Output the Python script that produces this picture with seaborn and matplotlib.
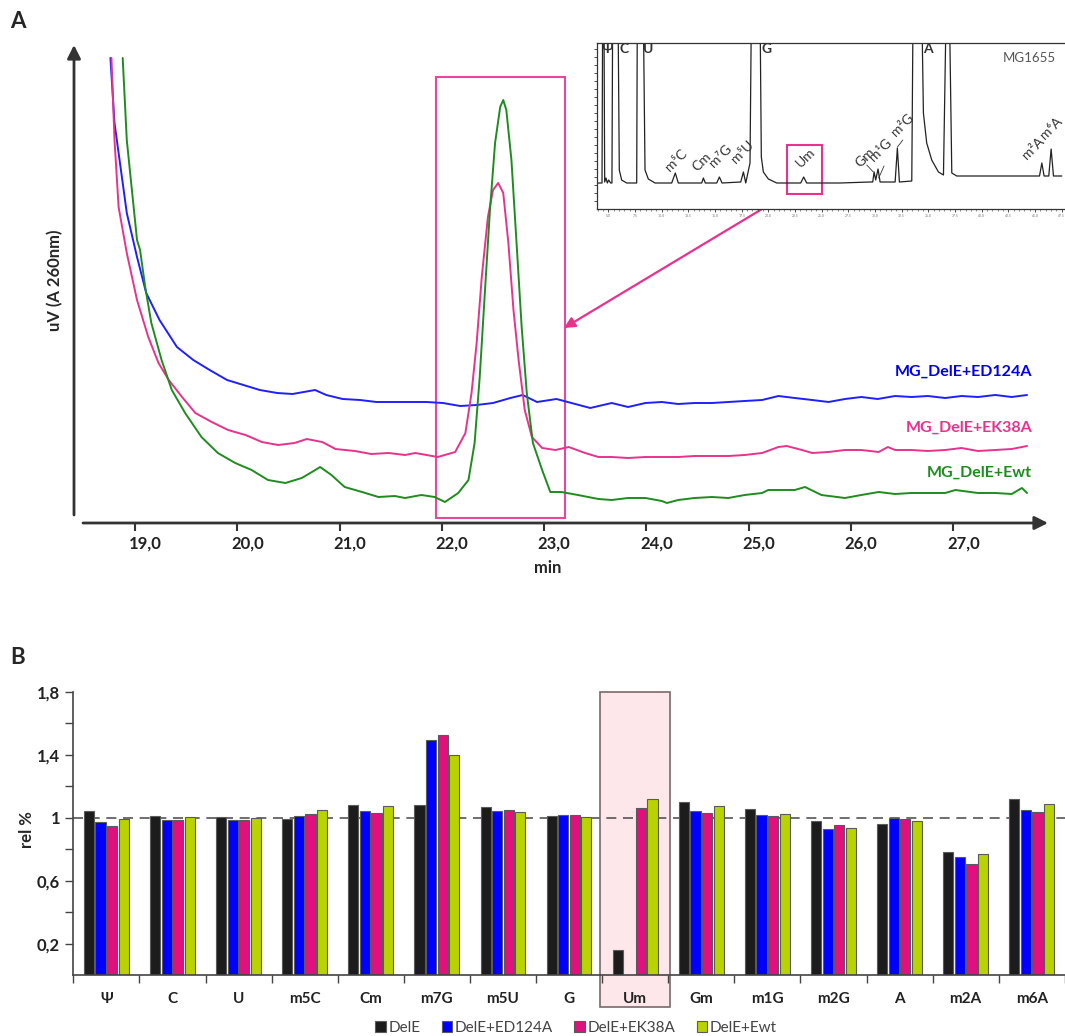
import numpy as np
import pandas as pd
import matplotlib
matplotlib.use("Agg")
import matplotlib.pyplot as plt
import matplotlib.transforms as mtransforms
from matplotlib.patches import Rectangle
import seaborn as sns

# ---------------- panel A: HPLC traces at 260 nm (min, signal in a.u.) ----------------
ed124a_min = [18.76, 18.80, 18.92, 19.02, 19.11, 19.24, 19.41, 19.57, 19.73, 19.90, 20.06, 20.22,
              20.39, 20.54, 20.76, 20.87, 21.03, 21.20, 21.36, 21.52, 21.69, 21.85, 22.01, 22.18,
              22.34, 22.50, 22.67, 22.79, 22.93, 23.12, 23.45, 23.66, 23.82, 23.99, 24.15, 24.31,
              24.47, 24.64, 24.80, 24.96, 25.13, 25.29, 25.45, 25.62, 25.78, 25.94, 26.10, 26.26,
              26.43, 26.59, 26.75, 26.92, 27.08, 27.24, 27.41, 27.57, 27.72]
ed124a_uv = [465, 400, 310, 266, 230, 203, 176, 163, 153, 143, 138, 133,
             130, 129, 133, 128, 124, 123, 121, 121, 121, 121, 120, 117,
             118, 120, 125, 128, 121, 124, 115, 120, 116, 120, 121, 119,
             120, 120, 121, 122, 123, 127, 125, 123, 121, 124, 126, 124,
             127, 126, 127, 125, 127, 126, 128, 126, 128]

ek38a_min = [18.77, 18.80, 18.84, 18.92, 19.02, 19.13, 19.23, 19.33, 19.46, 19.59, 19.75, 19.91,
             20.08, 20.24, 20.40, 20.56, 20.68, 20.83, 20.96, 21.15, 21.31, 21.48, 21.64, 21.74,
             21.96, 22.13, 22.23, 22.29, 22.34, 22.39, 22.45, 22.50, 22.55, 22.60, 22.65, 22.70,
             22.75, 22.81, 22.88, 22.98, 23.11, 23.24, 23.40, 23.53, 23.66, 23.82, 23.99, 24.15,
             24.31, 24.47, 24.64, 24.80, 24.96, 25.13, 25.29, 25.37, 25.52, 25.62, 25.78, 25.94,
             26.10, 26.27, 26.36, 26.43, 26.59, 26.75, 26.92, 27.08, 27.24, 27.41, 27.57, 27.72]
ek38a_uv = [465, 383, 316, 270, 223, 186, 160, 143, 126, 110, 101, 93,
            88, 81, 78, 80, 84, 81, 74, 72, 69, 70, 68, 70,
            66, 71, 90, 130, 180, 246, 306, 333, 340, 330, 280, 213,
            163, 113, 86, 75, 73, 76, 70, 66, 66, 65, 66, 66,
            66, 67, 67, 67, 68, 70, 76, 77, 73, 70, 71, 73,
            73, 71, 76, 73, 73, 72, 73, 75, 72, 73, 74, 77]

ewt_min = [18.88, 18.92, 18.97, 19.02, 19.05, 19.10, 19.16, 19.26, 19.36, 19.49, 19.65, 19.81,
           19.98, 20.14, 20.30, 20.47, 20.63, 20.73, 20.81, 20.92, 21.05, 21.22, 21.38, 21.54,
           21.64, 21.80, 21.93, 22.03, 22.16, 22.26, 22.32, 22.37, 22.42, 22.47, 22.52, 22.57,
           22.60, 22.63, 22.68, 22.73, 22.78, 22.83, 22.89, 22.98, 23.06, 23.17, 23.33, 23.53,
           23.66, 23.82, 23.99, 24.15, 24.20, 24.31, 24.47, 24.64, 24.80, 24.96, 25.13, 25.19,
           25.45, 25.55, 25.71, 25.94, 26.10, 26.27, 26.43, 26.59, 26.75, 26.92, 27.02, 27.24,
           27.41, 27.57, 27.67, 27.72]
ewt_uv = [465, 383, 333, 283, 273, 236, 200, 163, 133, 110, 86, 70,
          60, 53, 43, 40, 45, 51, 56, 48, 36, 31, 26, 27,
          25, 28, 26, 21, 30, 43, 80, 146, 230, 313, 380, 416,
          423, 413, 363, 280, 196, 130, 80, 53, 31, 31, 28, 24,
          23, 25, 25, 22, 20, 23, 25, 26, 25, 28, 30, 33,
          33, 36, 28, 25, 28, 31, 29, 30, 30, 30, 33, 30,
          30, 29, 35, 30]

# inset: MG1655 full chromatogram (the big peaks run off the top)
inset_min = [3.97, 4.41, 4.47, 4.59, 4.66, 4.78, 4.91, 5.03, 5.22, 5.34, 5.41, 5.91, 6.03, 6.25,
             6.72, 7.66, 7.72, 7.78, 8.28, 8.44, 8.75, 9.38, 10.94, 11.28, 11.56, 13.75, 13.91,
             14.09, 15.16, 15.41, 15.66, 17.41, 17.66, 17.88, 18.28, 18.41, 19.22, 19.34, 19.53,
             20.00, 20.78, 22.66, 23.03, 23.31, 23.59, 26.72, 29.53, 29.78, 29.91, 30.06, 30.28,
             30.47, 31.88, 32.09, 32.28, 33.44, 33.56, 34.38, 34.53, 34.84, 35.31, 35.94, 36.41,
             36.66, 36.97, 37.19, 37.66, 45.16, 45.41, 45.63, 45.84, 46.28, 46.50, 46.72, 47.50]
inset_uv = [26, 26, 200, 200, 27, 31, 26, 29, 26, 26, 200, 200, 39, 29,
            26, 26, 200, 200, 200, 39, 30, 26, 26, 36, 26, 26, 31,
            26, 26, 32, 26, 27, 37, 26, 46, 200, 200, 52, 37,
            30, 26, 26, 26, 32, 26, 26, 27, 27, 37, 29, 40,
            27, 27, 61, 27, 28, 200, 200, 96, 66, 49, 37, 34,
            200, 200, 36, 33, 33, 33, 46, 33, 33, 60, 33, 33]

# ---------------- panel B: relative nucleoside levels ----------------
nucleosides = ['Ψ', 'C', 'U', 'm5C', 'Cm', 'm7G', 'm5U', 'G', 'Um', 'Gm', 'm1G', 'm2G', 'A', 'm2A', 'm6A']
strains = ['DelE', 'DelE+ED124A', 'DelE+EK38A', 'DelE+Ewt']
rel_dele = [1.044, 1.013, 1.004, 0.994, 1.082, 1.080, 1.065, 1.013, 0.158, 1.097, 1.057, 0.979, 0.962, 0.783, 1.116]
rel_ed124a = [0.970, 0.987, 0.987, 1.013, 1.040, 1.494, 1.040, 1.017, np.nan, 1.044, 1.015, 0.930, 0.998, 0.751, 1.051]
rel_ek38a = [0.947, 0.987, 0.987, 1.023, 1.030, 1.527, 1.049, 1.017, 1.061, 1.032, 1.008, 0.951, 0.992, 0.707, 1.038]
rel_ewt = [0.992, 1.002, 0.996, 1.049, 1.074, 1.397, 1.036, 1.006, 1.116, 1.072, 1.023, 0.937, 0.981, 0.766, 1.086]

sns.set_style("white")
plt.rcParams['font.family'] = ['Lato', 'DejaVu Sans']

dark = '#333333'
pink = '#e8328c'
trace_colors = {'MG_DelE+ED124A': '#1f1fff', 'MG_DelE+EK38A': pink, 'MG_DelE+Ewt': '#1e8c1e'}
bar_colors = ['#1c1c1c', '#0000ff', '#e0107f', '#b9d300']

fig = plt.figure(figsize=(10.65, 10.36), dpi=100)
W, H = 1065, 1036

# ---------- panel A ----------
ax = fig.add_axes([74 / W, 1 - 523 / H, (1048 - 74) / W, (523 - 45) / H])
traces = pd.concat([
    pd.DataFrame({'min': ed124a_min, 'uv': ed124a_uv, 'sample': 'MG_DelE+ED124A'}),
    pd.DataFrame({'min': ek38a_min, 'uv': ek38a_uv, 'sample': 'MG_DelE+EK38A'}),
    pd.DataFrame({'min': ewt_min, 'uv': ewt_uv, 'sample': 'MG_DelE+Ewt'}),
])
sns.lineplot(data=traces, x='min', y='uv', hue='sample', palette=trace_colors,
             sort=False, estimator=None, lw=1.4, legend=False, ax=ax)
ax.set_xlim(18.404, 27.925)
ax.set_ylim(0, 478)
for s in ax.spines.values():
    s.set_visible(False)
ax.set_xlabel('')
ax.set_ylabel('')
ax.set_yticks([])
ax.set_xticks(range(19, 28))
ax.set_xticklabels([f'{v},0' for v in range(19, 28)], fontsize=12, fontweight='bold', color='#222')
ax.tick_params(axis='x', length=6, width=1.5, color=dark, pad=3, bottom=True)
offset = mtransforms.ScaledTranslation(10 / 100, 0, fig.dpi_scale_trans)
for lbl in ax.get_xticklabels():
    lbl.set_transform(lbl.get_transform() + offset)

# axis arrows
ax.annotate('', xy=(0, 1), xytext=(0, 8 / 478), xycoords='axes fraction', textcoords='axes fraction',
            arrowprops=dict(arrowstyle='-|>', color=dark, lw=2, mutation_scale=20, shrinkA=0, shrinkB=0),
            annotation_clip=False)
ax.annotate('', xy=(1, 0), xytext=(9 / 974, 0), xycoords='axes fraction', textcoords='axes fraction',
            arrowprops=dict(arrowstyle='-|>', color=dark, lw=2, mutation_scale=20, shrinkA=0, shrinkB=0),
            annotation_clip=False)

# highlighted Um peak window
ax.add_patch(Rectangle((21.94, 5), 23.2 - 21.94, 446 - 5, fill=False, edgecolor='#e8479a', lw=1.5))

ax.text(27.77, 151, 'MG_DelE+ED124A', color='#0000ee', ha='right', va='center', fontsize=11.5, fontweight='bold')
ax.text(27.77, 95, 'MG_DelE+EK38A', color=pink, ha='right', va='center', fontsize=11.5, fontweight='bold')
ax.text(27.77, 50, 'MG_DelE+Ewt', color='#1e8c1e', ha='right', va='center', fontsize=11.5, fontweight='bold')

fig.text(18 / W, 1 - 22 / H, 'A', fontsize=16, fontweight='bold', ha='center', va='center')
fig.text(55 / W, 1 - 280 / H, 'uV (A 260nm)', rotation=90, fontsize=12, fontweight='bold', ha='center', va='center')
fig.text(548 / W, 1 - 568 / H, 'min', fontsize=12, fontweight='bold', ha='center', va='center')

# arrow from inset box to the zoomed window
ax.annotate('', xy=(564, H - 328), xytext=(787, H - 194), xycoords='figure pixels', textcoords='figure pixels',
            arrowprops=dict(arrowstyle='-|>', color=pink, lw=1.6, mutation_scale=16, shrinkA=0, shrinkB=0),
            annotation_clip=False)

# ---------- inset ----------
axi = fig.add_axes([597 / W, 1 - 209 / H, (1065 - 597) / W, 166 / H])
sns.lineplot(x=inset_min, y=inset_uv, sort=False, estimator=None, color='#222222', lw=0.9, ax=axi)
axi.set_xlim(3.94, 47.8)
axi.set_ylim(0, 166)
axi.spines['right'].set_visible(False)
for k in ['left', 'top', 'bottom']:
    axi.spines[k].set_color(dark)
    axi.spines[k].set_linewidth(0.9)
axi.set_xticks(np.arange(5, 47.6, 2.5))
axi.set_xticklabels([f'{v:.1f}' for v in np.arange(5, 47.6, 2.5)], fontsize=2.5, color='#777777')
axi.set_xticks(np.arange(4, 47.8, 0.5), minor=True)
axi.set_yticks(np.arange(8, 166, 8))
axi.set_yticklabels([])
axi.tick_params(axis='both', which='major', length=2.5, width=0.6, color=dark, pad=1, bottom=True, left=True)
axi.tick_params(axis='x', which='minor', length=1.2, width=0.4, color=dark, bottom=True)

for x, y, t in [(4.88, 160, 'Ψ'), (6.47, 160, 'C'), (8.72, 160, 'U'), (19.87, 160, 'G'), (34.96, 160, 'A')]:
    axi.text(x, y, t, fontsize=10, fontweight='bold', color=dark, ha='center', va='center')
axi.text(44.5, 151, 'MG1655', fontsize=9.5, color='#555555', ha='center', va='center')
for x, y, t in [(11.35, 49, 'm⁵C'), (13.8, 47, 'Cm'), (15.47, 53, 'm⁷G'), (17.53, 57, 'm⁵U'),
                (23.5, 51, 'Um'), (29.1, 51, 'Gm'), (30.46, 59, 'm¹G'), (32.6, 84, 'm²G'),
                (44.8, 61, 'm²A'), (46.5, 81, 'm⁶A')]:
    axi.text(x, y, t, fontsize=10, color=dark, ha='center', va='center', rotation=45, rotation_mode='anchor')
for x0, x1, y0, y1 in [(29.22, 29.84, 44, 37), (30.84, 30.34, 43, 31), (32.6, 32.1, 69, 62)]:
    axi.plot([x0, x1], [y0, y1], color=dark, lw=0.6)
axi.add_patch(Rectangle((21.73, 15), 25.01 - 21.73, 64 - 15, fill=False, edgecolor=pink, lw=1.5))
axi.set_xlabel('')
axi.set_ylabel('')

# ---------- panel B ----------
axb = fig.add_axes([73.3 / W, 1 - 975 / H, 991.5 / W, 283.3 / H])
bars = pd.DataFrame({
    'nuc': nucleosides * 4,
    'strain': np.repeat(strains, len(nucleosides)),
    'rel': rel_dele + rel_ed124a + rel_ek38a + rel_ewt,
})
sns.barplot(data=bars, x='nuc', y='rel', hue='strain', palette=bar_colors, saturation=1, width=0.7, gap=0.12,
            edgecolor='#5a5a5a', linewidth=0.8, errorbar=None, ax=axb, zorder=2)
axb.set_xlim(-0.5, 14.5)
axb.set_ylim(0, 1.8)
axb.axhline(1, color='#555555', lw=1.2, ls=(0, (6, 4)), zorder=1)
axb.add_patch(Rectangle((7.47, -0.205), 1.06, 2.005, facecolor='#fde7ea', edgecolor='#7a6a6a',
                        lw=1.2, clip_on=False, zorder=0.5))
axb.spines['top'].set_visible(False)
axb.spines['right'].set_visible(False)
for k in ['left', 'bottom']:
    axb.spines[k].set_color('#444444')
    axb.spines[k].set_linewidth(1.2)
axb.set_yticks(np.arange(0.2, 1.81, 0.2))
axb.set_yticklabels(['0,2', '', '0,6', '', '1', '', '1,4', '', '1,8'], fontsize=12, fontweight='bold', color='#222')
axb.tick_params(axis='y', length=6, width=1, color='#444444', left=True)
axb.set_xticks(range(15))
axb.set_xticklabels(nucleosides, fontsize=11, fontweight='bold', color='#222')
axb.set_xticks(np.arange(-0.5, 14.6, 1), minor=True)
axb.tick_params(axis='x', which='major', length=0, pad=12)
axb.tick_params(axis='x', which='minor', length=6, width=1, color='#444444', bottom=True)
axb.set_xlabel('')
axb.set_ylabel('')

handles, labels = axb.get_legend_handles_labels()
leg = axb.legend(handles, labels, loc='center', bbox_to_anchor=(576 / W, 1 - 1028 / H),
                 bbox_transform=fig.transFigure, ncol=4, frameon=False, handlelength=0.7,
                 handleheight=0.7, handletextpad=0.15, columnspacing=1.4, fontsize=11)
for t in leg.get_texts():
    t.set_color('#444444')

fig.text(18 / W, 1 - 657 / H, 'B', fontsize=16, fontweight='bold', ha='center', va='center')
fig.text(27 / W, 1 - 830 / H, 'rel %', rotation=90, fontsize=12, fontweight='bold', ha='center', va='center')

fig.savefig('out.png', dpi=100)
